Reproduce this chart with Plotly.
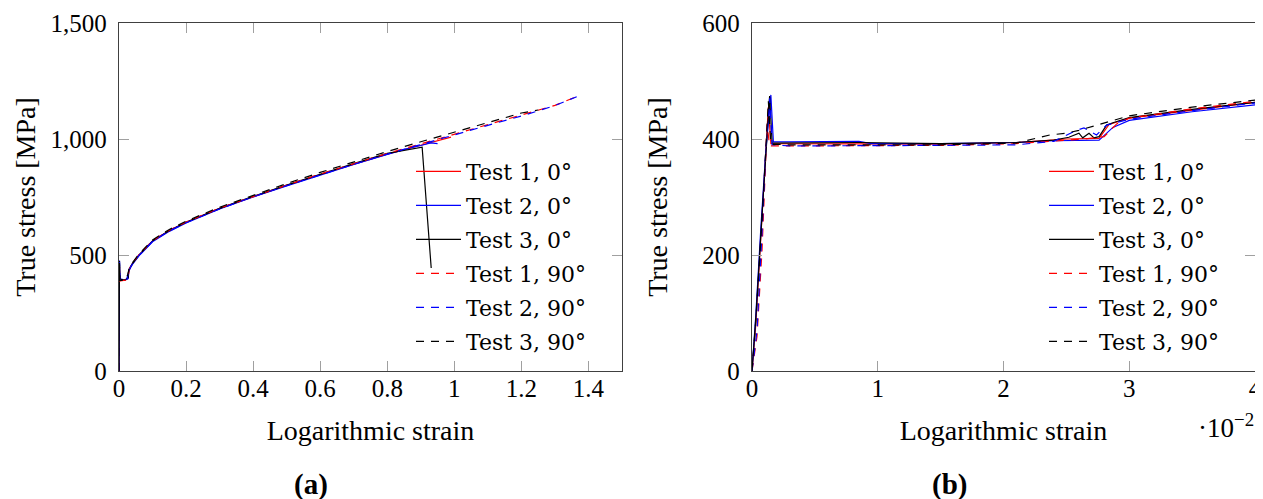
import plotly.graph_objects as go

# ---------------- data ----------------
t1_0_x = [0, 0.0003, 0.0007, 0.0011, 0.0013, 0.0015, 0.0030, 0.0085, 0.0150, 0.0210, 0.0235, 0.0250,
          0.0276, 0.0284, 0.0300, 0.0350, 0.04, 0.06, 0.08, 0.1, 0.15, 0.2, 0.3, 0.4, 0.5, 0.6,
          0.7, 0.8, 0.9, 0.99]
t1_0_y = [0, 80, 230, 385, 455, 392, 392, 392, 391, 394, 398, 400,
          401, 425, 436, 450, 463, 500, 530, 560, 605, 641, 701, 752, 800, 847,
          892, 935, 973, 1008]

t2_0_x = [0, 0.0003, 0.0007, 0.0011, 0.0015, 0.0017, 0.0030, 0.0085, 0.0095, 0.0150, 0.0210, 0.0240,
          0.0276, 0.0287, 0.0300, 0.0350, 0.04, 0.06, 0.08, 0.1, 0.15, 0.2, 0.3, 0.4, 0.5, 0.6,
          0.7, 0.8, 0.87, 0.9, 0.93, 0.95]
t2_0_y = [0, 95, 245, 380, 476, 395, 395, 396, 392, 392, 394, 397,
          398, 420, 432, 447, 459, 497, 527, 557, 602, 638, 698, 750, 798, 845,
          890, 933, 963, 972, 983, 980]

t3_0_x = [0, 0.0003, 0.0008, 0.0012, 0.0014, 0.0016, 0.0030, 0.0085, 0.0150, 0.0210, 0.0240, 0.0252,
          0.0260, 0.0263, 0.0268, 0.0272, 0.0276, 0.0282, 0.0287, 0.0300, 0.0350, 0.04, 0.06, 0.08,
          0.1, 0.15, 0.2, 0.3, 0.4, 0.5, 0.6, 0.7, 0.8, 0.904, 0.931]
t3_0_y = [0, 90, 270, 420, 474, 393, 393, 394, 392, 394, 398, 403,
          410, 402, 410, 402, 404, 424, 428, 437, 451, 463, 501, 531,
          561, 606, 641, 701, 753, 801, 849, 894, 938, 965, 444]

t1_90_x = [0, 0.0004, 0.0008, 0.0012, 0.0014, 0.0030, 0.0085, 0.0150, 0.0210, 0.0240, 0.0265, 0.0280,
           0.0290, 0.0300, 0.0350, 0.04, 0.06, 0.08, 0.1, 0.15, 0.2, 0.3, 0.4, 0.5, 0.6, 0.7,
           0.8, 0.9, 1.0, 1.1, 1.2, 1.3, 1.36]
t1_90_y = [0, 60, 210, 425, 388, 388, 389, 389, 392, 396, 400, 404,
           426, 436, 452, 465, 502, 532, 562, 607, 642, 702, 753, 801, 849, 894,
           938, 979, 1020, 1061, 1101, 1145, 1180]

t2_90_x = [0, 0.0004, 0.0008, 0.0011, 0.0014, 0.0016, 0.0030, 0.0085, 0.0150, 0.0210, 0.0240, 0.0258,
           0.0264, 0.0274, 0.0282, 0.0300, 0.0350, 0.04, 0.06, 0.08, 0.1, 0.15, 0.2, 0.3, 0.4, 0.5,
           0.6, 0.7, 0.8, 0.9, 1.0, 1.1, 1.2, 1.3, 1.365]
t2_90_y = [0, 70, 240, 380, 470, 390, 388, 388, 389, 390, 396, 415,
           419, 407, 424, 434, 449, 462, 499, 529, 559, 604, 639, 699, 751, 799,
           846, 891, 935, 977, 1019, 1059, 1099, 1144, 1182]

t3_90_x = [0, 0.0003, 0.0008, 0.0012, 0.0013, 0.0015, 0.0030, 0.0085, 0.0150, 0.0210, 0.0237, 0.0250,
           0.0260, 0.0284, 0.0300, 0.0350, 0.04, 0.06, 0.08, 0.1, 0.15, 0.2, 0.3, 0.4, 0.5, 0.6,
           0.7, 0.8, 0.9, 1.0, 1.1, 1.2, 1.25]
t3_90_y = [0, 85, 260, 430, 465, 391, 390, 390, 390, 393, 407, 410,
           415, 430, 440, 455, 467, 505, 535, 565, 610, 646, 706, 758, 808, 856,
           902, 946, 988, 1030, 1072, 1112, 1125]

series_names = ["Test 1, 0°", "Test 2, 0°", "Test 3, 0°", "Test 1, 90°", "Test 2, 90°", "Test 3, 90°"]
series_x = [t1_0_x, t2_0_x, t3_0_x, t1_90_x, t2_90_x, t3_90_x]
series_y = [t1_0_y, t2_0_y, t3_0_y, t1_90_y, t2_90_y, t3_90_y]
series_color = ["#ff0000", "#0000ff", "#000000", "#ff0000", "#0000ff", "#000000"]
series_dash = ["solid", "solid", "solid", "8px,7px", "8px,7px", "8px,7px"]

right_tickvals = [0, 0.01, 0.02, 0.03, 0.04]
right_ticktext = ["0", "1", "2", "3", "4"]

# ---------------- figure ----------------
# the page body has an 8px default margin, so the figure is 8px smaller each way
OFF = 8
W, H = 1263 - OFF, 499 - OFF
FONT = "Liberation Serif"
LEG_FONT = "DejaVu Serif"

fig = go.Figure()
for panel, (xa, ya, lg) in enumerate([("x", "y", "legend"), ("x2", "y2", "legend2")]):
    for i, (name, xs, ys, c, d) in enumerate(zip(series_names, series_x, series_y, series_color, series_dash)):
        fig.add_trace(go.Scatter(
            x=xs, y=ys, mode="lines", name=name, xaxis=xa, yaxis=ya, legend=lg,
            legendgroup=f"p{panel}s{i}",
            line=dict(color=c, width=1.2, dash=d),
        ))


def px_x(p):
    return (p - OFF) / W


def px_y(p):
    return 1 - (p - OFF) / H


axis_common = dict(
    showline=True, linecolor="#404040", linewidth=1.3, mirror="ticks",
    ticks="inside", ticklen=10, tickcolor="#a0a0a0", tickwidth=1,
    showgrid=False, zeroline=False, automargin=False, ticklabeloverflow="allow",
    tickfont=dict(family=FONT, size=25, color="black"),
)
title_font = dict(family=FONT, size=28, color="black")
legend_font = dict(family=LEG_FONT, size=22, color="black")

ydom = [px_y(371), px_y(23)]

fig.update_layout(
    width=W, height=H,
    margin=dict(l=0, r=0, t=0, b=0),
    paper_bgcolor="white", plot_bgcolor="white",
    font=dict(family=FONT, size=25, color="black"),
    xaxis=dict(axis_common, domain=[px_x(119), px_x(622)], range=[0, 1.5], tick0=0, dtick=0.2,
               anchor="y", ticklabelstandoff=-5,
               title=dict(text="Logarithmic strain", standoff=19, font=title_font)),
    yaxis=dict(axis_common, domain=ydom, range=[0, 1500], tick0=0, dtick=500, tickformat=",",
               anchor="x", ticklabelstandoff=6,
               title=dict(text="True stress [MPa]", standoff=6, font=title_font)),
    xaxis2=dict(axis_common, domain=[px_x(752), px_x(1255)], range=[0, 0.04],
                tickvals=right_tickvals, ticktext=right_ticktext, anchor="y2", ticklabelstandoff=-5,
                title=dict(text="Logarithmic strain", standoff=19, font=title_font)),
    yaxis2=dict(axis_common, domain=ydom, range=[0, 600], tick0=0, dtick=200,
                anchor="x2", ticklabelstandoff=6,
                title=dict(text="True stress [MPa]", standoff=26, font=title_font)),
    legend=dict(x=px_x(411), xanchor="left", y=px_y(150.5), yanchor="top",
                bgcolor="rgba(0,0,0,0)", borderwidth=0, itemwidth=45,
                font=legend_font, tracegroupgap=2.4),
    legend2=dict(x=px_x(1044), xanchor="left", y=px_y(150.5), yanchor="top",
                 bgcolor="rgba(0,0,0,0)", borderwidth=0, itemwidth=45,
                 font=legend_font, tracegroupgap=2.4),
    annotations=[
        dict(text="·10<sup>−2</sup>", x=px_x(1256), y=px_y(426), xref="paper", yref="paper",
             xanchor="right", yanchor="middle", showarrow=False, font=dict(family=FONT, size=27)),
        dict(text="<b>(a)</b>", x=px_x(311), y=px_y(484), xref="paper", yref="paper",
             xanchor="center", yanchor="middle", showarrow=False, font=dict(family=FONT, size=29)),
        dict(text="<b>(b)</b>", x=px_x(949), y=px_y(484), xref="paper", yref="paper",
             xanchor="center", yanchor="middle", showarrow=False, font=dict(family=FONT, size=29)),
    ],
    showlegend=True,
)

fig.write_html("out.html")
